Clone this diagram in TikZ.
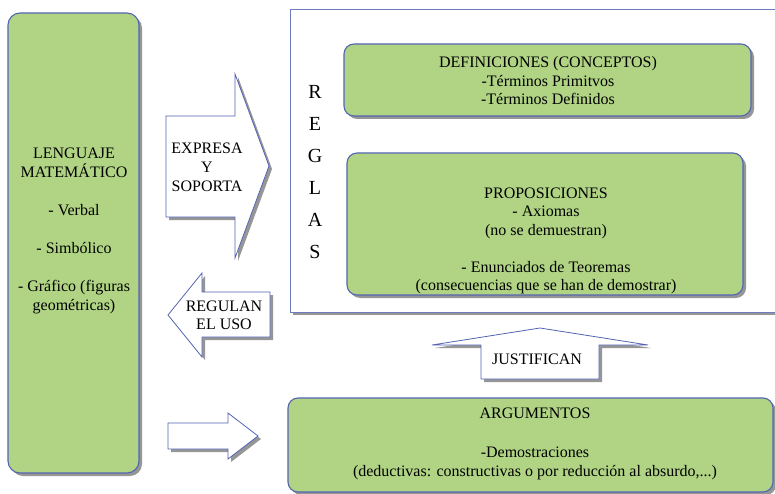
\documentclass[tikz,border=0pt]{standalone}
\usepackage{fontspec}
\setmainfont{Liberation Serif}
\usetikzlibrary{shadows}
\definecolor{boxgreen}{RGB}{176,212,132}
\definecolor{boxblue}{RGB}{84,100,178}
\definecolor{shadowgray}{RGB}{150,150,150}
\tikzset{
  myshadow/.style={drop shadow={shadow xshift=3pt, shadow yshift=-3pt, fill=shadowgray, opacity=1}},
  greenbox/.style={draw=boxblue, line width=1.1pt, fill=boxgreen, rounded corners=10pt, inner sep=0pt, myshadow},
  framebox/.style={draw=boxblue!85, line width=1pt, fill=white, myshadow},
  blockarrow/.style={draw=boxblue, line width=0.8pt, fill=white, line join=miter, myshadow},
  txt/.style={font=\fontsize{16}{18.5}\selectfont, align=center, inner sep=0pt, text=black},
  bigtxt/.style={font=\fontsize{20}{32}\selectfont, align=center, inner sep=0pt, text=black},
}
\begin{document}
\begin{tikzpicture}[x=1pt,y=-1pt]
\useasboundingbox (0,0) rectangle (775,494);
\clip (0,0) rectangle (775,494);
\fill[white] (0,0) rectangle (775,494);

% left box
\node[greenbox, rounded corners=12pt, minimum width=131pt, minimum height=460pt] (lang) at (73.5,243) {};
\node[txt, font=\fontsize{16}{19}\selectfont] (langtxt) at (74,231)
  {LENGUAJE\\MATEMÁTICO\\[19pt]- Verbal\\[19pt]- Simbólico\\[19pt]- Gráfico (figuras\\geométricas)};

% REGLAS frame
\node[framebox, minimum width=520pt, minimum height=302pt, inner sep=0pt] (reglas) at (550,161) {};
\node[bigtxt] (reglastxt) at (315,172) {R\\E\\G\\L\\A\\S};

% definiciones
\node[greenbox, minimum width=407pt, minimum height=72pt] (def) at (547.5,80) {};
\node[txt] (deftxt) at (548,81) {DEFINICIONES (CONCEPTOS)\\-Términos Primitvos\\-Términos Definidos};

% proposiciones
\node[greenbox, minimum width=396pt, minimum height=142pt] (prop) at (545,224) {};
\node[txt] (proptxt) at (546,241) {PROPOSICIONES\\- Axiomas\\(no se demuestran)\\[18.5pt]- Enunciados de Teoremas\\(consecuencias que se han de demostrar)};

% argumentos
\node[greenbox, minimum width=485pt, minimum height=94pt] (arg) at (530.5,445) {};
\node[txt, font=\fontsize{16}{19.5}\selectfont] (argtxt) at (535,444) {ARGUMENTOS\\[19.5pt]-Demostraciones\\(deductivas: constructivas o por reducción al absurdo,...)};

% block arrows
\draw[blockarrow] (166,116) -- (235,116) -- (235,74) -- (269,166) -- (235,258) -- (235,217) -- (166,217) -- cycle;
\node[txt, font=\fontsize{16}{19}\selectfont] (expresa) at (207,167) {EXPRESA\\Y\\SOPORTA};

\draw[blockarrow] (270,292) -- (202,292) -- (202,273) -- (168,315) -- (202,357) -- (202,337) -- (270,337) -- cycle;
\node[txt, font=\fontsize{16}{18}\selectfont] (regulan) at (224,315) {REGULAN\\EL USO};

\draw[blockarrow] (168,423) -- (228,423) -- (228,413) -- (258,436) -- (228,459) -- (228,449) -- (168,449) -- cycle;
\coordinate (argarrow) at (258,436);

\draw[blockarrow] (481,379) -- (481,345) -- (432,345) -- (540,328) -- (648,345) -- (599,345) -- (599,379) -- cycle;
\node[txt] (justifican) at (537,359) {JUSTIFICAN};
\end{tikzpicture}
\end{document}
